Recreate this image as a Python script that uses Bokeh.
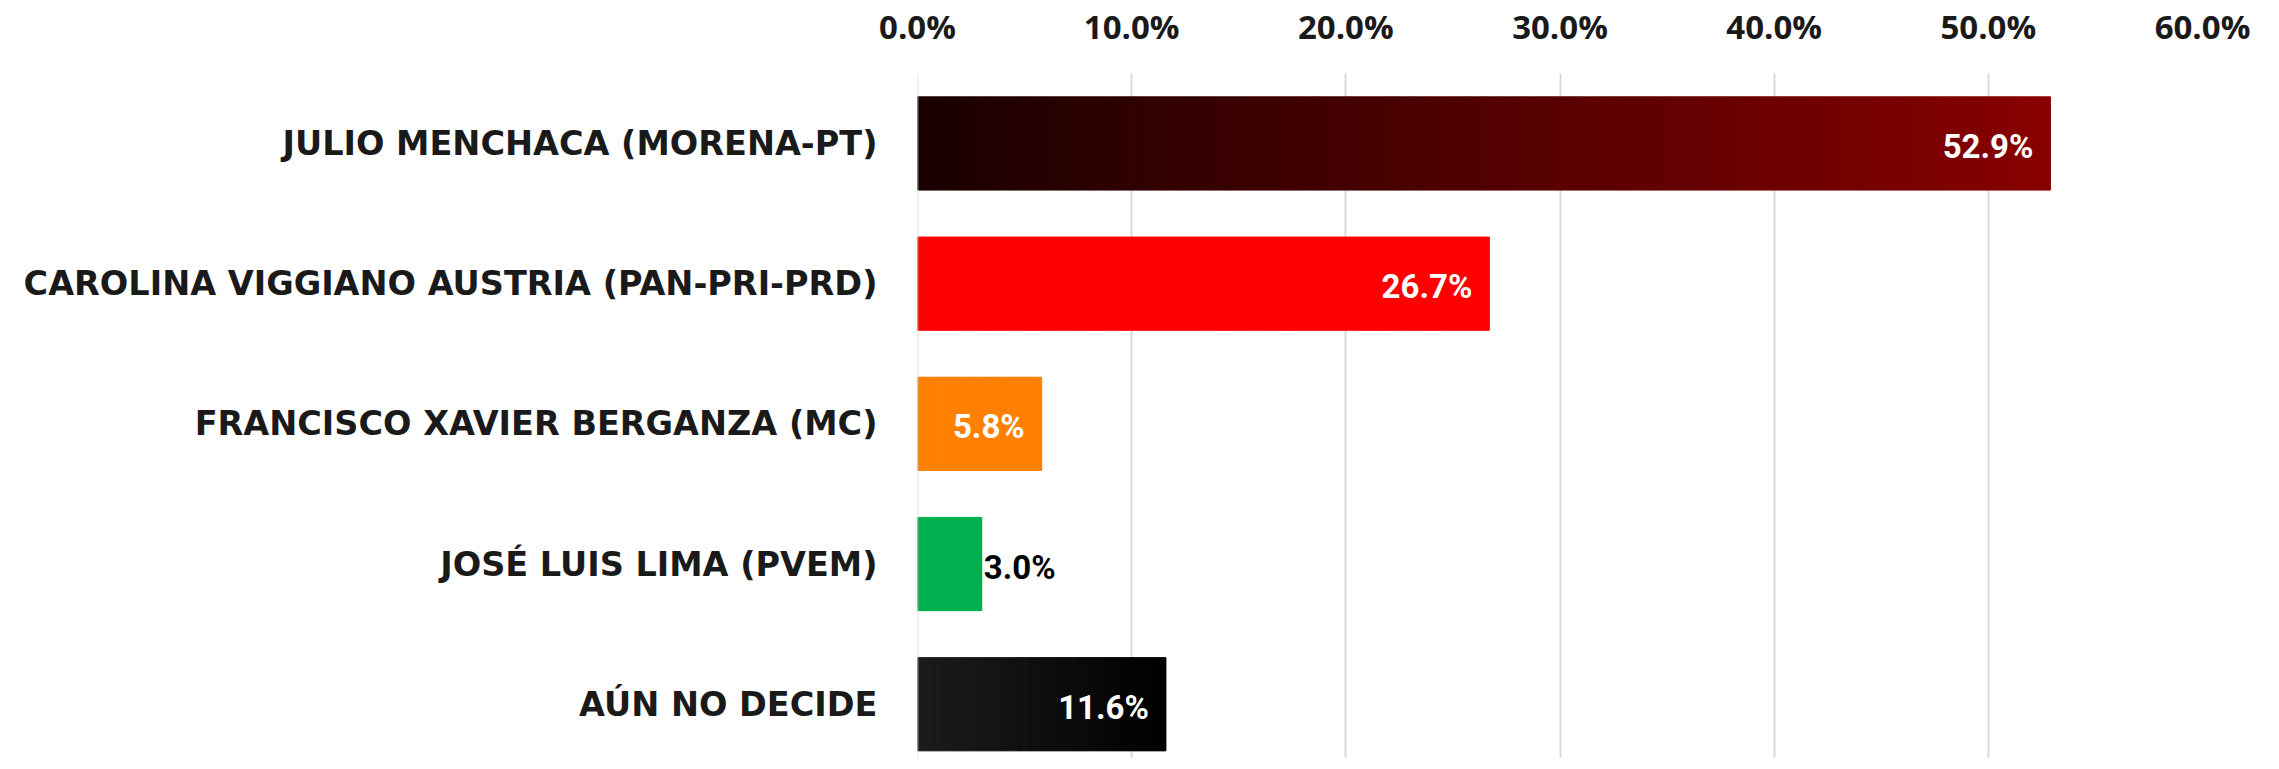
from bokeh.plotting import figure
from bokeh.models import ColumnDataSource, Range1d, FixedTicker, PrintfTickFormatter, LabelSet, Span
from bokeh.core.properties import value
from bokeh.embed import file_html
from bokeh.resources import INLINE

# ---- data ----
categories = [
    "JULIO MENCHACA (MORENA-PT)",
    "CAROLINA VIGGIANO AUSTRIA (PAN-PRI-PRD)",
    "FRANCISCO XAVIER BERGANZA (MC)",
    "JOSÉ LUIS LIMA (PVEM)",
    "AÚN NO DECIDE",
]
values = [52.9, 26.7, 5.8, 3.0, 11.6]
color_start = ["#1a0000", "#ff0000", "#ff8000", "#00b050", "#1c1c1c"]
color_end = ["#880000", "#ff0000", "#ff8000", "#00b050", "#000000"]
x_ticks = [0, 10, 20, 30, 40, 50, 60]

LABEL_FONT = "DejaVu Sans"
TICK_FONT = "Open Sans"
VALUE_FONT = "Roboto"
TEXT_COLOR = "#1a1a1a"


def hex_to_rgb(h):
    h = h.lstrip("#")
    return tuple(int(h[i:i + 2], 16) for i in (0, 2, 4))


def mix(c1, c2, t):
    a, b = hex_to_rgb(c1), hex_to_rgb(c2)
    return "#%02x%02x%02x" % tuple(round(a[k] + (b[k] - a[k]) * t) for k in range(3))


# gradient bars: each bar split into thin segments
N = 80
seg = dict(left=[], right=[], y=[], color=[])
for i, v in enumerate(values):
    for s in range(N):
        seg["left"].append(v * s / N)
        seg["right"].append(v * (s + 1) / N)
        seg["y"].append(i)
        seg["color"].append(mix(color_start[i], color_end[i], (s + 0.5) / N))

p = figure(
    frame_width=1285, frame_height=685,
    x_range=Range1d(0, 60),
    y_range=Range1d(4.387, -0.499),
    output_backend="svg", toolbar_location=None,
    x_axis_location="above",
    min_border_left=917, min_border_right=61, min_border_top=68, min_border_bottom=0,
)
p.outline_line_color = None
p.background_fill_color = "white"
p.border_fill_color = "white"

p.hbar(y="y", left="left", right="right", height=0.665, fill_color="color",
       line_color="color", line_width=1, source=ColumnDataSource(seg))

# faint zero line showing over the bars' left edges
p.add_layout(Span(location=0, dimension="height", line_color="#cfcfcf",
                  line_alpha=0.55, line_width=2, level="overlay"))

# value labels
inside = [v >= 5 for v in values]
lab_in = dict(x=[v for v, f in zip(values, inside) if f],
              y=[i for i, f in enumerate(inside) if f],
              t=["%.1f%%" % v for v, f in zip(values, inside) if f])
lab_out = dict(x=[v for v, f in zip(values, inside) if not f],
               y=[i for i, f in enumerate(inside) if not f],
               t=["%.1f%%" % v for v, f in zip(values, inside) if not f])

p.add_layout(LabelSet(x="x", y="y", text="t", source=ColumnDataSource(lab_in),
                      text_align="right", text_baseline="middle", x_offset=-17, y_offset=-3,
                      text_color="white", text_font=value(VALUE_FONT), text_font_style="bold",
                      text_font_size="33px"))
p.add_layout(LabelSet(x="x", y="y", text="t", source=ColumnDataSource(lab_out),
                      text_align="left", text_baseline="middle", x_offset=2, y_offset=-3,
                      text_color="black", text_font=value(VALUE_FONT), text_font_style="bold",
                      text_font_size="33px"))

# x axis (top)
xa = p.xaxis[0]
xa.ticker = FixedTicker(ticks=x_ticks)
xa.formatter = PrintfTickFormatter(format="%.1f%%")
xa.axis_line_color = None
xa.major_tick_line_color = None
xa.minor_tick_line_color = None
xa.major_tick_out = 0
xa.major_tick_in = 0
xa.minor_tick_out = 0
xa.major_label_text_font = TICK_FONT
xa.major_label_text_font_style = "bold"
xa.major_label_text_font_size = "33px"
xa.major_label_text_color = TEXT_COLOR
xa.major_label_standoff = 25

# y axis (categories)
ya = p.yaxis[0]
ya.ticker = FixedTicker(ticks=list(range(len(categories))))
ya.major_label_overrides = {i: c for i, c in enumerate(categories)}
ya.axis_line_color = None
ya.major_tick_line_color = None
ya.minor_tick_line_color = None
ya.major_tick_out = 0
ya.major_tick_in = 0
ya.minor_tick_out = 0
ya.major_label_text_font = LABEL_FONT
ya.major_label_text_font_style = "bold"
ya.major_label_text_font_size = "33.5px"
ya.major_label_text_color = TEXT_COLOR
ya.major_label_standoff = 40

p.xgrid.ticker = FixedTicker(ticks=x_ticks)
p.xgrid.grid_line_color = "#d9d9d9"
p.xgrid.grid_line_width = 2
p.ygrid.grid_line_color = None

open("out.html", "w").write(file_html(p, INLINE))
